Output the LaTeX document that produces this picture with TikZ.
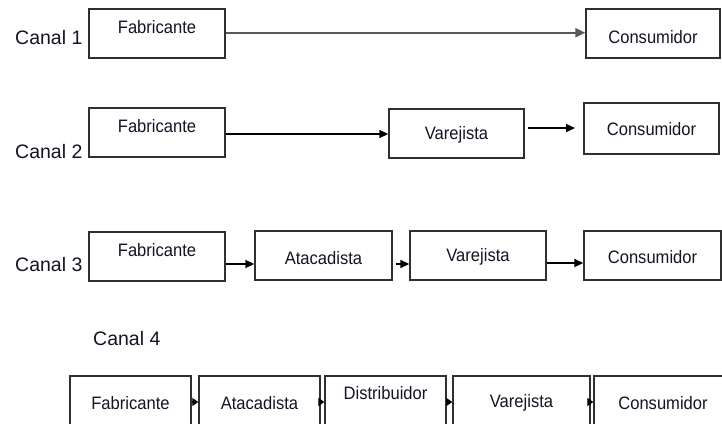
\documentclass[tikz,border=0pt]{standalone}
\usepackage{fontspec}
\setmainfont{Liberation Sans}
\newfontfamily\boxfont[FakeStretch=0.92]{Liberation Sans}
\usetikzlibrary{arrows.meta}
\definecolor{txtc}{HTML}{141424}
\definecolor{linec}{HTML}{303030}
\tikzset{
  box/.style={draw=linec, line width=1.4pt, rectangle, inner sep=0pt, minimum height=49pt},
  txt/.style={inner sep=0pt, text=txtc, font=\boxfont\fontsize{18}{20}\selectfont},
  canal/.style={inner sep=0pt, anchor=west, text=txtc, font=\fontsize{19.5}{22}\selectfont},
  arr/.style={draw=black, line width=1.5pt, -{Triangle[length=9pt,width=8pt]}},
  arrg/.style={draw=black!65, line width=2.2pt, -{Triangle[length=10pt,width=9pt]}},
  arrs/.style={draw=black, line width=1.2pt, -{Triangle[length=6pt,width=8pt]}}
}
\begin{document}
\begin{tikzpicture}[x=1pt,y=-1pt]
\useasboundingbox (0,0) rectangle (722,423);
\fill[white] (0,0) rectangle (722,423);
\clip (0,0) rectangle (722,423);

% Canal 1
\node[canal] (l1) at (15,38) {Canal 1};
\node[box, minimum width=136pt] (f1) at (157,33.5) {};
\node[txt] (f1t) at (157,27) {Fabricante};
\node[box, minimum width=134pt] (c1) at (653,33.5) {};
\node[txt] (c1t) at (653,37) {Consumidor};
\draw[arrg] (f1.east |- 0,32.7) -- (c1.west |- 0,32.7);

% Canal 2
\node[canal] (l2) at (15,152) {Canal 2};
\node[box, minimum width=136pt] (f2) at (157,132.5) {};
\node[txt] (f2t) at (157,126) {Fabricante};
\node[box, minimum width=135pt] (v2) at (456.5,133.5) {};
\node[txt] (v2t) at (456.5,135) {Varejista};
\node[box, minimum width=135pt, minimum height=51pt] (c2) at (651.5,128.5) {};
\node[txt] (c2t) at (651.5,129) {Consumidor};
\draw[arr] (f2.east |- 0,134) -- (v2.west |- 0,134);
\coordinate (a2s) at (528,128);
\coordinate (a2e) at (575,128);
\draw[arr] (a2s) -- (a2e);

% Canal 3
\node[canal] (l3) at (15,265) {Canal 3};
\node[box, minimum width=136pt] (f3) at (157,256.5) {};
\node[txt] (f3t) at (157,250) {Fabricante};
\node[box, minimum width=137pt] (a3) at (323.5,255.5) {};
\node[txt] (a3t) at (323.5,258) {Atacadista};
\node[box, minimum width=136pt] (v3) at (478,255.5) {};
\node[txt] (v3t) at (478,257) {Varejista};
\node[box, minimum width=137pt] (c3) at (652.5,255.5) {};
\node[txt] (c3t) at (652.5,257) {Consumidor};
\draw[arr] (f3.east |- 0,264) -- (a3.west |- 0,264);
\draw[arr] ([xshift=3pt]a3.east |- 0,264) -- (v3.west |- 0,264);
\draw[arr] (v3.east |- 0,263) -- (c3.west |- 0,263);

% Canal 4
\node[canal] (l4) at (93,339) {Canal 4};
\node[box, minimum width=121pt, minimum height=70pt] (f4) at (130.5,411) {};
\node[txt] (f4t) at (130.5,403) {Fabricante};
\node[box, minimum width=121pt, minimum height=70pt] (a4) at (259.5,411) {};
\node[txt] (a4t) at (259.5,403) {Atacadista};
\node[box, minimum width=121pt, minimum height=70pt] (d4) at (385.5,411) {};
\node[txt] (d4t) at (385.5,393) {Distribuidor};
\node[box, minimum width=137pt, minimum height=70pt] (v4) at (521.5,411) {};
\node[txt] (v4t) at (521.5,403) {Varejista};
\node[box, minimum width=138pt, minimum height=70pt] (c4) at (663,411) {};
\node[txt] (c4t) at (663,403) {Consumidor};
\draw[arrs] (f4.east |- 0,402) -- (a4.west |- 0,402);
\draw[arrs] (a4.east |- 0,402) -- (d4.west |- 0,402);
\draw[arrs] (d4.east |- 0,402) -- (v4.west |- 0,402);
\draw[arrs] (v4.east |- 0,402) -- (c4.west |- 0,402);
\end{tikzpicture}
\end{document}
